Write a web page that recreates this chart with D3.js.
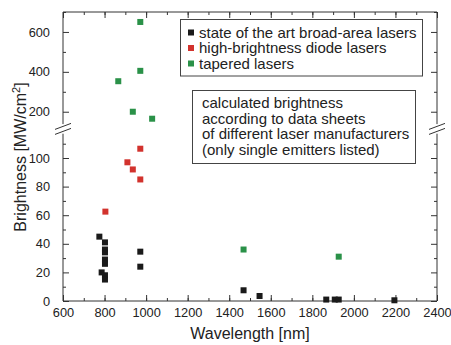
<!DOCTYPE html>
<html>
<head>
<meta charset="utf-8">
<script src="https://cdn.jsdelivr.net/npm/d3@7"></script>
<style>
  body { margin: 0; background: #fff; }
  svg { font-family: "Liberation Sans", Arial, sans-serif; }
  .axis path, .axis line { stroke: #333; }
  .axis text { font-size: 12.8px; fill: #222; }
</style>
</head>
<body>
<div id="chart"></div>
<script>
// series data
var broadWl  = [775, 802, 802, 802, 802, 802, 786, 802, 802, 972, 972, 1469, 1546, 1867, 1908, 1927, 2195];
var broadBr  = [45, 41, 36, 34, 29, 26, 20, 18, 15, 34.5, 24, 7.5, 3.5, 1, 1, 1, 0.5];
var hbWl     = [804, 910, 936, 972, 972];
var hbBr     = [62.5, 97, 92, 106.5, 85];
var taperWl  = [972, 972, 866, 936, 1029, 1469, 1927];
var taperBr  = [650, 405, 353, 200, 165, 36, 31];

var seriesNames = ["state of the art broad-area lasers", "high-brightness diode lasers", "tapered lasers"];
var seriesColors = ["#1a1a1a", "#d2322d", "#2a9148"];
var noteLines = ["calculated brightness", "according to data sheets",
                 "of different laser manufacturers", "(only single emitters listed)"];

var xTicks = [600, 800, 1000, 1200, 1400, 1600, 1800, 2000, 2200, 2400];
var lowTicks = [0, 20, 40, 60, 80, 100];
var highTicks = [200, 400, 600];

var W = 451, H = 345;
var mLeft = 63, mRight = 437, mTop = 12, mBottom = 301;

var svg = d3.select("#chart").append("svg")
    .attr("width", W).attr("height", H);

var x = d3.scaleLinear().domain([600, 2400]).range([mLeft, mRight]);
var yLow = d3.scaleLinear().domain([0, 117]).range([mBottom, 133.7]);
var yHigh = d3.scaleLinear().domain([138, 700]).range([124.1, mTop]);

var yOf = function(v) { return v > 120 ? yHigh(v) : yLow(v); };

// bottom & top axes
svg.append("g").attr("class", "axis")
    .attr("transform", "translate(0," + mBottom + ")")
    .call(d3.axisBottom(x).tickValues(d3.range(600, 2401, 100)).tickSize(-3).tickFormat(""))
    .call(g => g.select(".domain").remove());
svg.append("g").attr("class", "axis")
    .attr("transform", "translate(0," + mBottom + ")")
    .call(d3.axisBottom(x).tickValues(xTicks).tickSize(-6).tickPadding(7).tickFormat(d3.format("d")))
    .call(g => g.select(".domain").attr("d", "M" + mLeft + ",0H" + mRight));
svg.append("g").attr("class", "axis")
    .attr("transform", "translate(0," + mTop + ")")
    .call(d3.axisTop(x).tickValues(d3.range(600, 2401, 100)).tickSize(-3).tickFormat(""))
    .call(g => g.select(".domain").remove());
svg.append("g").attr("class", "axis")
    .attr("transform", "translate(0," + mTop + ")")
    .call(d3.axisTop(x).tickValues(xTicks).tickSize(-6).tickFormat(""))
    .call(g => g.select(".domain").attr("d", "M" + mLeft + ",0H" + mRight));

// left & right axes, two segments each
function yAxes(xpos, axisFn, labels) {
  [[yLow, d3.range(10, 111, 20), lowTicks], [yHigh, d3.range(300, 701, 200), highTicks]].forEach(function(s) {
    var sc = s[0];
    svg.append("g").attr("class", "axis")
        .attr("transform", "translate(" + xpos + ",0)")
        .call(axisFn(sc).tickValues(s[1]).tickSize(-3).tickFormat(""))
        .call(g => g.select(".domain").remove());
    svg.append("g").attr("class", "axis")
        .attr("transform", "translate(" + xpos + ",0)")
        .call(axisFn(sc).tickValues(s[2]).tickSize(-6).tickPadding(13)
              .tickFormat(labels ? d3.format("d") : ""))
        .call(g => g.select(".domain").attr("d", "M0," + sc.range()[0] + "V" + sc.range()[1]));
  });
  // break marks
  var ym = (yLow.range()[1] + yHigh.range()[0]) / 2;
  [-2.5, 2.5].forEach(function(o) {
    svg.append("line")
        .attr("x1", xpos - 8).attr("y1", ym + o + 3)
        .attr("x2", xpos + 8).attr("y2", ym + o - 3)
        .attr("stroke", "#333").attr("stroke-width", 1);
  });
}
yAxes(mLeft, d3.axisLeft, true);
yAxes(mRight, d3.axisRight, false);

// markers
var ms = 6;
function drawSeries(wl, br, color) {
  svg.append("g").selectAll("rect")
      .data(d3.zip(wl, br))
      .join("rect")
      .attr("x", d => x(d[0]) - ms / 2)
      .attr("y", d => yOf(d[1]) - ms / 2)
      .attr("width", ms).attr("height", ms)
      .attr("fill", color);
}
drawSeries(broadWl, broadBr, seriesColors[0]);
drawSeries(hbWl, hbBr, seriesColors[1]);
drawSeries(taperWl, taperBr, seriesColors[2]);

// legend
var leg = svg.append("g");
leg.append("rect")
    .attr("x", 180.5).attr("y", 19.5).attr("width", 242).attr("height", 56.5)
    .attr("fill", "#fff").attr("stroke", "#444");
seriesNames.forEach(function(n, i) {
  var cy = 32.5 + i * 15.5;
  leg.append("rect").attr("x", 188).attr("y", cy - 3).attr("width", 6).attr("height", 6)
      .attr("fill", seriesColors[i]);
  leg.append("text").attr("x", 199).attr("y", cy + 5)
      .style("font-size", "15px").attr("fill", "#222").text(n);
});

// note box
var note = svg.append("g");
note.append("rect")
    .attr("x", 192.5).attr("y", 90.5).attr("width", 223).attr("height", 73)
    .attr("fill", "#fff").attr("stroke", "#444");
noteLines.forEach(function(t, i) {
  note.append("text").attr("x", 202).attr("y", 108 + i * 15.5)
      .style("font-size", "15px").attr("fill", "#222").text(t);
});

// axis titles
svg.append("text")
    .attr("x", (mLeft + mRight) / 2).attr("y", 339)
    .attr("text-anchor", "middle")
    .style("font-size", "16px").attr("fill", "#222")
    .text("Wavelength [nm]");

var yt = svg.append("text")
    .attr("transform", "translate(26," + 157 + ") rotate(-90)")
    .attr("text-anchor", "middle")
    .style("font-size", "16px").attr("fill", "#222");
yt.append("tspan").text("Brightness [MW/cm");
yt.append("tspan").attr("dy", -6).style("font-size", "11px").text("2");
yt.append("tspan").attr("dy", 6).text("]");
</script>
</body>
</html>
